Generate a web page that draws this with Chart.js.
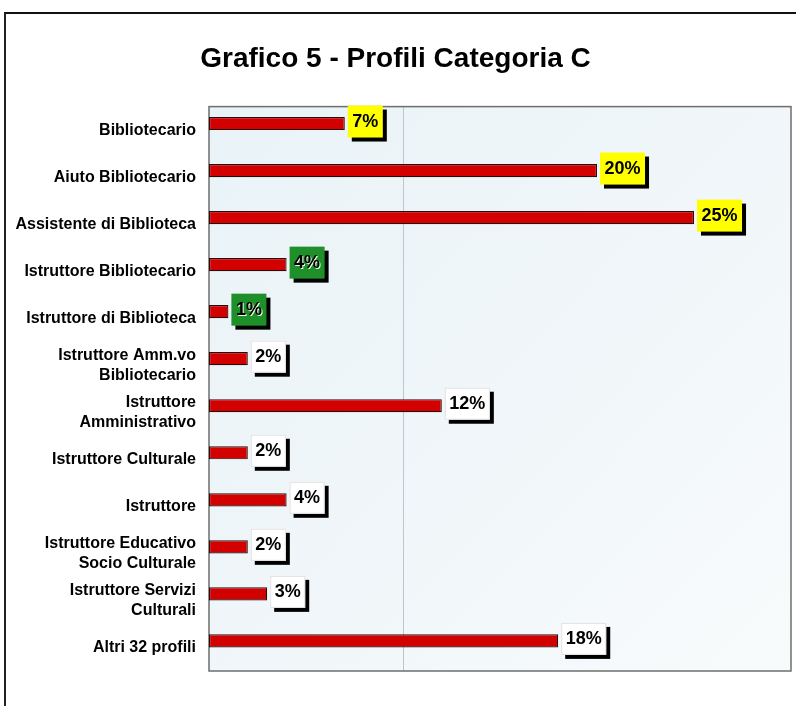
<!DOCTYPE html>
<html>
<head>
<meta charset="utf-8">
<script src="https://cdn.jsdelivr.net/npm/chart.js@4.4.1/dist/chart.umd.min.js"></script>
<style>
  html, body { margin: 0; padding: 0; background: #fff; }
  #wrap { position: relative; width: 796px; height: 706px; overflow: hidden; }
  #frame { position: absolute; left: 4px; top: 12px; width: 900px; height: 900px;
    border-top: 2px solid #111; border-left: 2px solid #222; }
  canvas { position: absolute; left: 0; top: 0; }
</style>
</head>
<body>
<div id="wrap">
  <div id="frame"></div>
  <canvas id="chart" width="796" height="706"></canvas>
</div>
<script>
const categories = [
  'Bibliotecario',
  'Aiuto Bibliotecario',
  'Assistente di Biblioteca',
  'Istruttore Bibliotecario',
  'Istruttore di Biblioteca',
  ['Istruttore Amm.vo', 'Bibliotecario'],
  ['Istruttore', 'Amministrativo'],
  'Istruttore Culturale',
  'Istruttore',
  ['Istruttore Educativo', 'Socio Culturale'],
  ['Istruttore Servizi', 'Culturali'],
  'Altri 32 profili'
];
const percentages = [7, 20, 25, 4, 1, 2, 12, 2, 4, 2, 3, 18];
// empty second series: keeps the bars in the upper half of each row, as in the original
const emptySeries = categories.map(() => null);
// label box colour per bar (yellow = top, green = library-specific, white = rest)
const boxColors = ['#ffff00', '#ffff00', '#ffff00', '#1f8f2a', '#1f8f2a',
  '#ffffff', '#ffffff', '#ffffff', '#ffffff', '#ffffff', '#ffffff', '#ffffff'];

const plotDecor = {
  id: 'plotDecor',
  beforeDatasetsDraw(chart) {
    const { ctx, chartArea: a, scales } = chart;
    ctx.save();
    const g = ctx.createLinearGradient(a.left, a.top, a.right, a.bottom);
    g.addColorStop(0, '#e9f3f7');
    g.addColorStop(0.5, '#f0f6f9');
    g.addColorStop(1, '#f8fbfc');
    ctx.fillStyle = g;
    ctx.fillRect(a.left, a.top, a.right - a.left, a.bottom - a.top);
    // single vertical guide line
    const gx = Math.round(scales.x.getPixelForValue(10)) + 0.5;
    ctx.strokeStyle = '#bcc7cd';
    ctx.lineWidth = 1;
    ctx.beginPath();
    ctx.moveTo(gx, a.top);
    ctx.lineTo(gx, a.bottom);
    ctx.stroke();
    ctx.strokeStyle = '#6e6e6e';
    ctx.lineWidth = 1.5;
    ctx.strokeRect(a.left, a.top, a.right - a.left, a.bottom - a.top);
    ctx.restore();
  }
};

const valueBoxes = {
  id: 'valueBoxes',
  afterDatasetsDraw(chart) {
    const { ctx } = chart;
    const meta = chart.getDatasetMeta(0);
    ctx.save();
    ctx.font = 'bold 18px "Liberation Sans", Arial, sans-serif';
    ctx.textBaseline = 'middle';
    meta.data.forEach((bar, i) => {
      const txt = percentages[i] + '%';
      const w = ctx.measureText(txt).width + 9;
      const h = 32;
      const x = bar.x + 3;
      const y = bar.y - 18;
      ctx.fillStyle = '#000';
      ctx.fillRect(x + 4, y + 4, w, h);
      ctx.fillStyle = boxColors[i];
      ctx.fillRect(x, y, w, h);
      if (boxColors[i] === '#ffffff') {
        ctx.strokeStyle = '#e2e2e2';
        ctx.lineWidth = 1;
        ctx.strokeRect(x + 0.5, y + 0.5, w - 1, h - 1);
      }
      ctx.textAlign = 'center';
      if (boxColors[i] === '#1f8f2a') {
        ctx.fillStyle = '#e8ffe8';
        ctx.fillText(txt, x + w / 2 + 1, y + h / 2 + 1);
      }
      ctx.fillStyle = '#000';
      ctx.fillText(txt, x + w / 2, y + h / 2);
    });
    ctx.restore();
  }
};

new Chart(document.getElementById('chart'), {
  type: 'bar',
  data: {
    labels: categories,
    datasets: [{
      data: percentages,
      backgroundColor: '#d30000',
      borderColor: '#2a0b0b',
      borderWidth: 1.2,
      borderSkipped: false
    }, {
      data: emptySeries
    }]
  },
  options: {
    indexAxis: 'y',
    responsive: false,
    devicePixelRatio: 1,
    animation: false,
    datasets: { bar: { categoryPercentage: 0.56, barPercentage: 1 } },
    layout: { padding: { left: 0, right: 5, top: 0, bottom: 35 } },
    plugins: {
      legend: { display: false },
      tooltip: { enabled: false },
      title: {
        display: true,
        text: 'Grafico 5 - Profili Categoria C',
        color: '#000',
        font: { family: '"Liberation Sans", Arial, sans-serif', size: 28, weight: 'bold' },
        padding: { top: 42, bottom: 31 }
      }
    },
    scales: {
      x: { display: false, min: 0, max: 30 },
      y: {
        grid: { display: false, drawTicks: false },
        border: { display: false },
        ticks: {
          color: '#000',
          padding: 13,
          font: { family: '"Liberation Sans", Arial, sans-serif', size: 16, weight: 'bold', lineHeight: 1.25 }
        },
        afterFit(scale) { scale.width = 209; }
      }
    }
  },
  plugins: [plotDecor, valueBoxes]
});
</script>
</body>
</html>
